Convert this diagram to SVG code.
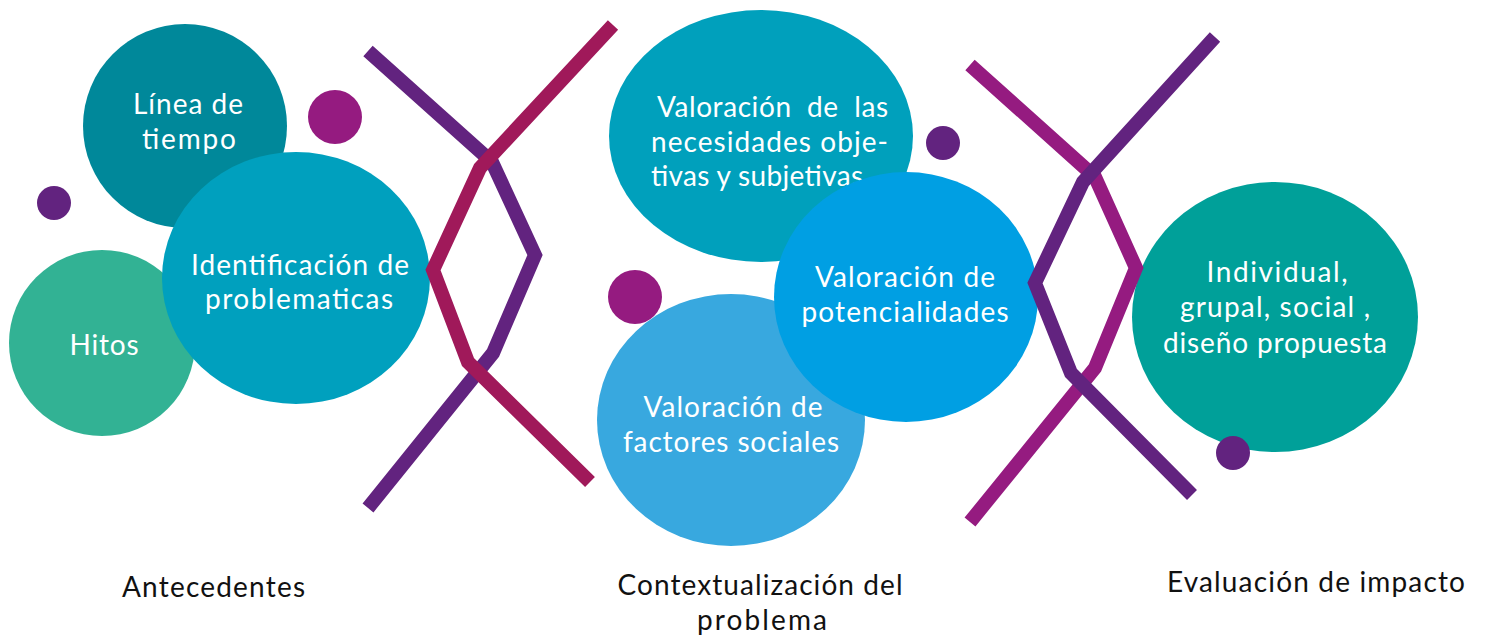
<svg xmlns="http://www.w3.org/2000/svg" width="1485" height="637" viewBox="0 0 1485 637">
<style>
.t{font-family:Lato,"Open Sans","Liberation Sans",sans-serif;font-size:28px;fill:#ffffff}
.c{text-anchor:middle}
.lbl{font-family:Lato,"Open Sans","Liberation Sans",sans-serif;font-size:28px;fill:#111111}
.ln{fill:none;stroke-width:14;stroke-linejoin:miter;stroke-linecap:butt}
.pur{stroke:#62237F}
.crim{stroke:#A0195A}
.mag{stroke:#951B80}
.dp{fill:#62237F}
.dm{fill:#951B80}
</style>
<rect width="1485" height="637" fill="#ffffff"/>

<g id="linea-de-tiempo">
<circle cx="185" cy="126" r="102" fill="#00889A"/>
<text class="t c" x="188" y="114" textLength="110" lengthAdjust="spacing">Línea de</text>
<text class="t c" x="189" y="149" textLength="94" lengthAdjust="spacing">tiempo</text>
</g>
<g id="hitos">
<ellipse cx="102" cy="343" rx="93" ry="93" fill="#32B294"/>
<text class="t c" x="104" y="355" textLength="69" lengthAdjust="spacing">Hitos</text>
</g>
<g id="identificacion">
<ellipse cx="296" cy="278" rx="134" ry="126" fill="#00A0BE"/>
<text class="t c" x="300" y="275" textLength="218" lengthAdjust="spacing">Identificación de</text>
<text class="t c" x="299" y="309" textLength="188" lengthAdjust="spacing">problematicas</text>
</g>
<g id="dots-left">
<circle class="dp" cx="54" cy="203" r="17"/>
<circle class="dm" cx="335" cy="117" r="27"/>
</g>

<g id="necesidades">
<ellipse cx="761" cy="136" rx="152" ry="126" fill="#00A0BC"/>
<text class="t" x="657" y="117" textLength="231" lengthAdjust="spacing" xml:space="preserve">Valoración  de  las</text>
<text class="t" x="651" y="152" textLength="237" lengthAdjust="spacing">necesidades obje-</text>
<text class="t" x="651" y="186" textLength="212" lengthAdjust="spacing">tivas y subjetivas</text>
</g>
<g id="factores">
<ellipse cx="731" cy="420" rx="134" ry="126" fill="#38A8DF"/>
<text class="t c" x="733" y="417" textLength="179" lengthAdjust="spacing">Valoración de</text>
<text class="t c" x="731" y="452" textLength="216" lengthAdjust="spacing">factores sociales</text>
</g>
<g id="potencialidades">
<ellipse cx="906" cy="297" rx="132" ry="125" fill="#009FE3"/>
<text class="t c" x="905" y="287" textLength="180" lengthAdjust="spacing">Valoración de</text>
<text class="t c" x="905" y="322" textLength="207" lengthAdjust="spacing">potencialidades</text>
</g>
<g id="dots-middle">
<circle class="dm" cx="635" cy="297" r="27"/>
<circle class="dp" cx="943" cy="143" r="17"/>
</g>

<g id="individual">
<ellipse cx="1275" cy="317" rx="143" ry="135" fill="#00A099"/>
<text class="t c" x="1277" y="282" textLength="141" lengthAdjust="spacing">Individual,</text>
<text class="t c" x="1275" y="317" textLength="190" lengthAdjust="spacing">grupal, social ,</text>
<text class="t c" x="1275" y="353" textLength="224" lengthAdjust="spacing">diseño propuesta</text>
</g>
<g id="dot-right">
<circle class="dp" cx="1233" cy="453" r="17"/>
</g>

<g id="connectors">
<polyline class="ln pur" points="368,51 492,162 535,255 493,353 368,508"/>
<polyline class="ln crim" points="613,25 480,168 433,270 468,362 590,482"/>
<polyline class="ln mag" points="970,65 1095,177 1136,268 1095,368 970,522"/>
<polyline class="ln pur" points="1215,37 1083,182 1035,283 1071,373 1192,495"/>
</g>

<g id="label-antecedentes">
<text class="lbl" x="122" y="597" textLength="183" lengthAdjust="spacing">Antecedentes</text>
</g>
<g id="label-contextualizacion">
<text class="lbl c" x="760" y="595" textLength="285" lengthAdjust="spacing">Contextualización del</text>
<text class="lbl c" x="762" y="630" textLength="130" lengthAdjust="spacing">problema</text>
</g>
<g id="label-evaluacion">
<text class="lbl" x="1167" y="592" textLength="298" lengthAdjust="spacing">Evaluación de impacto</text>
</g>
</svg>
